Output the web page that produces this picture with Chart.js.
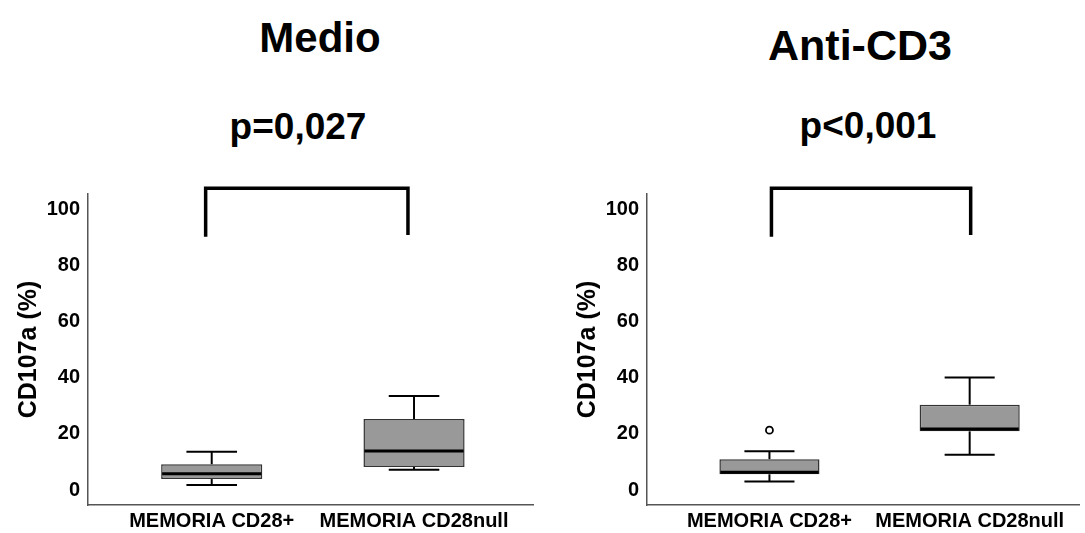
<!DOCTYPE html>
<html>
<head>
<meta charset="utf-8">
<script src="https://cdn.jsdelivr.net/npm/chart.js@4.4.1/dist/chart.umd.min.js"></script>
<style>
  body { margin: 0; width: 1085px; height: 533px; background: #fff; position: relative; overflow: hidden; font-family: "Liberation Sans", Arial, sans-serif; }
  .head { position: absolute; width: 400px; text-align: center; font-weight: bold; line-height: 1; color: #000; white-space: nowrap; }
  canvas { position: absolute; top: 0; }
</style>
</head>
<body>
<div class="head" style="left:120px; top:17px; font-size:42px;">Medio</div>
<div class="head" style="left:98px; top:108px; font-size:37px;">p=0,027</div>
<div class="head" style="left:660px; top:24px; font-size:43px;">Anti-CD3</div>
<div class="head" style="left:668px; top:107px; font-size:37px;">p&lt;0,001</div>
<canvas id="medio" width="534" height="533" style="left:0"></canvas>
<canvas id="anti" width="526" height="533" style="left:559px"></canvas>
<script>
const categories = ["MEMORIA CD28+", "MEMORIA CD28null"];
const catPos = [1, 2];
const yTicks = [0, 20, 40, 60, 80, 100];

// Medio
const medioLow = [1.8, 7.2];
const medioQ1 = [3.9, 8.2];
const medioMedian = [5.8, 13.9];
const medioQ3 = [9.2, 25.3];
const medioHigh = [13.6, 33.5];
const medioOutliers = [[], []];

// Anti-CD3
const antiLow = [3.0, 12.6];
const antiQ1 = [5.6, 20.9];
const antiMedian = [6.3, 21.7];
const antiQ3 = [11.0, 30.4];
const antiHigh = [13.8, 40.1];
const antiOutliers = [[21.3], []];

const FONT = '"Liberation Sans", Arial, sans-serif';

// whiskers, medians and the significance bracket, all through the chart scales
const boxPlot = {
  id: "boxPlot",
  afterDatasetsDraw(chart, args, opts) {
    const { ctx, scales: { x, y } } = chart;
    const line = (x0, y0, x1, y1) => {
      ctx.beginPath();
      ctx.moveTo(x0, y0);
      ctx.lineTo(x1, y1);
      ctx.stroke();
    };
    ctx.save();
    ctx.strokeStyle = "#000";
    catPos.forEach((c, i) => {
      const xc = x.getPixelForValue(c);
      const capL = x.getPixelForValue(c - 0.125);
      const capR = x.getPixelForValue(c + 0.125);
      const yHi = y.getPixelForValue(opts.high[i]);
      const yLo = y.getPixelForValue(opts.low[i]);
      ctx.lineWidth = 2;
      line(xc, y.getPixelForValue(opts.q3[i]), xc, yHi);
      line(capL, yHi, capR, yHi);
      line(xc, y.getPixelForValue(opts.q1[i]), xc, yLo);
      line(capL, yLo, capR, yLo);
      ctx.lineWidth = 3;
      const ym = y.getPixelForValue(opts.median[i]);
      line(x.getPixelForValue(c - 0.25) + 1, ym, x.getPixelForValue(c + 0.25) - 1, ym);
    });
    const b = opts.bracket;
    ctx.lineWidth = 3.5;
    ctx.lineJoin = "miter";
    ctx.beginPath();
    ctx.moveTo(x.getPixelForValue(b.x[0]), y.getPixelForValue(b.foot[0]));
    ctx.lineTo(x.getPixelForValue(b.x[0]), y.getPixelForValue(b.top));
    ctx.lineTo(x.getPixelForValue(b.x[1]), y.getPixelForValue(b.top));
    ctx.lineTo(x.getPixelForValue(b.x[1]), y.getPixelForValue(b.foot[1]));
    ctx.stroke();
    ctx.restore();
  },
};

function makeChart(id, s, xMax, bracket) {
  const datasets = [{
    type: "bar",
    data: catPos.map((c, i) => ({ x: c, y: [s.q1[i], s.q3[i]] })),
    backgroundColor: "#999999",
    borderColor: "#333",
    borderWidth: 1.5,
    borderSkipped: false,
    barPercentage: 0.5,
    categoryPercentage: 1,
  }];
  const outPts = [];
  s.outliers.forEach((vals, i) => vals.forEach((v) => outPts.push({ x: catPos[i], y: v })));
  if (outPts.length) {
    datasets.push({
      type: "scatter",
      data: outPts,
      pointStyle: "circle",
      radius: 3.5,
      borderWidth: 1.8,
      borderColor: "#000",
      backgroundColor: "#fff",
    });
  }

  return new Chart(document.getElementById(id), {
    type: "bar",
    data: { datasets },
    options: {
      responsive: false,
      animation: false,
      layout: { padding: { top: 194, left: 0, right: 0, bottom: 0 } },
      plugins: {
        legend: { display: false },
        tooltip: { enabled: false },
        boxPlot: { ...s, bracket },
      },
      scales: {
        x: {
          type: "linear",
          min: 0.3885,
          max: xMax,
          offset: false,
          afterBuildTicks: (sc) => { sc.ticks = catPos.map((v) => ({ value: v })); },
          afterFit: (sc) => { sc.height = 28; },
          ticks: {
            callback: (v, i) => categories[i],
            autoSkip: false,
            maxRotation: 0,
            color: "#000",
            padding: 4.5,
            font: { family: FONT, size: 20, weight: "bold" },
          },
          grid: { display: false, drawTicks: false },
          border: { display: true, color: "#555", width: 1.5 },
        },
        y: {
          min: -5.34,
          max: 105.45,
          afterBuildTicks: (sc) => { sc.ticks = yTicks.map((v) => ({ value: v })); },
          afterFit: (sc) => { sc.width = 88; },
          ticks: {
            color: "#000",
            padding: 8,
            font: { family: FONT, size: 20, weight: "bold" },
          },
          grid: { display: false, drawTicks: false },
          border: { display: true, color: "#555", width: 1.5 },
          title: {
            display: true,
            text: "CD107a (%)",
            color: "#000",
            font: { family: FONT, size: 25, weight: "bold" },
            padding: { top: 14, bottom: 0 },
          },
        },
      },
    },
    plugins: [boxPlot],
  });
}

makeChart("medio",
  { low: medioLow, q1: medioQ1, median: medioMedian, q3: medioQ3, high: medioHigh, outliers: medioOutliers },
  2.593,
  { x: [0.97, 1.97], top: 107.5, foot: [90.2, 90.8] });

makeChart("anti",
  { low: antiLow, q1: antiQ1, median: antiMedian, q3: antiQ3, high: antiHigh, outliers: antiOutliers },
  2.547,
  { x: [1.01, 2.005], top: 107.5, foot: [90.2, 90.8] });
</script>
</body>
</html>
